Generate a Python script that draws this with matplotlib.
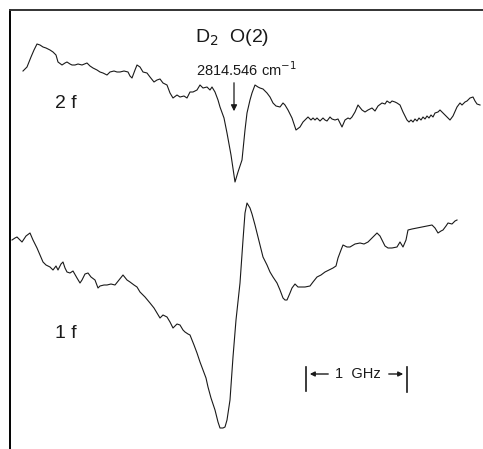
import matplotlib.pyplot as plt

# 2f trace (frequency position, signal)
f2_x = [23, 27, 31, 34, 37, 40, 43, 46, 50, 53, 56, 58, 62, 65, 67, 70, 72, 75, 78, 82,
        87, 90, 93, 97, 100, 103, 107, 110, 114, 117, 120, 124, 128, 130, 132, 135, 137,
        140, 143, 147, 150, 154, 157, 160, 163, 167, 170, 173, 177, 180, 184, 187, 190,
        193, 197, 200, 203, 207, 210, 212, 215, 218, 220, 224, 227, 231, 235, 238, 242,
        245, 247, 250, 252, 255, 258, 260, 263, 267, 270, 273, 276, 280, 283, 285, 288,
        292, 296, 300, 303, 306, 308, 311, 313, 315, 317, 320, 323, 325, 327, 330, 332,
        335, 338, 340, 342, 345, 348, 350, 352, 355, 358, 362, 365, 368, 372, 375, 378,
        382, 385, 387, 390, 392, 395, 397, 400, 403, 407, 409, 411, 413, 415, 417, 419,
        421, 423, 425, 427, 429, 431, 433, 435, 438, 440, 443, 445, 447, 450, 453, 457,
        460, 462, 465, 467, 470, 473, 475, 477, 480]
f2_y = [71, 67, 57, 50, 44, 45, 47, 48, 50, 52, 55, 62, 65, 63, 62, 64, 65, 65, 64, 65,
        63, 66, 68, 70, 72, 73, 75, 72, 71, 72, 72, 71, 72, 76, 78, 70, 65, 67, 72, 73,
        77, 82, 80, 79, 83, 85, 93, 98, 95, 97, 96, 98, 92, 92, 90, 85, 88, 87, 90, 87,
        92, 100, 107, 118, 133, 155, 182, 172, 160, 130, 113, 100, 93, 85, 87, 88, 89,
        93, 97, 103, 106, 107, 103, 105, 110, 118, 130, 127, 122, 119, 117, 120, 118,
        120, 118, 121, 118, 120, 121, 117, 119, 120, 119, 123, 127, 120, 118, 119, 117,
        112, 105, 110, 112, 110, 108, 111, 106, 103, 104, 101, 103, 101, 102, 103, 105,
        112, 120, 122, 120, 122, 119, 121, 118, 120, 117, 119, 116, 118, 115, 117, 113,
        112, 110, 113, 115, 117, 120, 116, 107, 103, 105, 102, 101, 98, 97, 101, 104, 105]

# 1f trace
f1_x = [12, 15, 17, 20, 22, 26, 30, 33, 37, 40, 43, 46, 50, 53, 56, 58, 61, 63, 65, 67,
        70, 73, 77, 80, 82, 85, 88, 91, 95, 98, 100, 104, 107, 111, 115, 119, 123, 127,
        130, 134, 137, 140, 145, 150, 154, 157, 160, 163, 167, 170, 173, 177, 180, 183,
        185, 188, 190, 194, 197, 200, 203, 206, 208, 211, 215, 218, 220, 223, 225, 227,
        230, 233, 236, 240, 243, 245, 247, 250, 252, 255, 257, 260, 263, 267, 270, 273,
        277, 280, 283, 285, 287, 290, 292, 295, 298, 300, 305, 310, 313, 317, 321, 325,
        329, 333, 336, 338, 341, 343, 347, 350, 355, 360, 364, 368, 372, 377, 380, 382,
        385, 388, 392, 397, 400, 403, 406, 408, 412, 417, 422, 427, 432, 435, 438, 441,
        443, 446, 448, 452, 455, 457]
f1_y = [240, 238, 237, 240, 242, 236, 233, 240, 248, 255, 262, 265, 267, 270, 266, 270,
        264, 262, 268, 272, 273, 271, 278, 283, 280, 274, 273, 277, 280, 288, 286, 285,
        285, 284, 285, 280, 275, 280, 282, 285, 287, 292, 297, 303, 308, 313, 318, 315,
        317, 322, 328, 324, 325, 330, 332, 334, 335, 345, 353, 362, 370, 378, 387, 398,
        410, 422, 428, 428, 427, 420, 400, 357, 320, 283, 240, 213, 203, 208, 214, 225,
        233, 245, 257, 265, 272, 277, 283, 290, 298, 300, 300, 293, 288, 284, 287, 287,
        287, 286, 282, 277, 275, 272, 270, 268, 266, 258, 250, 245, 247, 247, 244, 243,
        244, 242, 238, 233, 236, 240, 246, 248, 248, 247, 242, 247, 240, 230, 229, 228,
        227, 226, 225, 228, 233, 231, 230, 226, 223, 224, 221, 220]

peak_label = "D$_2$  O(2)"
peak_wavenumber = "2814.546 cm$^{-1}$"
trace_labels = ["2 f", "1 f"]
scale_label = "1  GHz"

fig = plt.figure(figsize=(4.83, 4.49), dpi=100)
ax = fig.add_axes([10 / 483, 0, 473 / 483, 439 / 449])
ax.set_xlim(10, 483)
ax.set_ylim(449, 10)

ink = "#1a1a1a"
ax.plot(f2_x, f2_y, color=ink, lw=0.8)
ax.plot(f1_x, f1_y, color=ink, lw=0.8)

# frame: only the left and top edges survive on the scan
for side in ["right", "bottom"]:
    ax.spines[side].set_visible(False)
ax.spines["left"].set_linewidth(1.4)
ax.spines["top"].set_linewidth(1.4)
ax.spines["top"].set_color("#333333")
ax.set_xticks([])
ax.set_yticks([])

font = "Liberation Sans"
ax.text(232, 37, peak_label, fontsize=14, family=font, ha="center", va="center", color=ink)
ax.text(246, 70, peak_wavenumber, fontsize=10.5, family=font, ha="center", va="center", color=ink)
ax.annotate("", xy=(234, 114), xytext=(234, 80),
            arrowprops=dict(arrowstyle="-|>", color=ink, lw=0.9, mutation_scale=9))

ax.text(55, 103, trace_labels[0], fontsize=14, family=font, ha="left", va="center", color=ink)
ax.text(55, 333, trace_labels[1], fontsize=14, family=font, ha="left", va="center", color=ink)

# 1 GHz scale bar
ax.plot([306, 306], [367, 391], color=ink, lw=1.2)
ax.plot([407, 407], [367, 392], color=ink, lw=1.2)
ax.annotate("", xy=(307, 374), xytext=(331, 374),
            arrowprops=dict(arrowstyle="-|>", color=ink, lw=1, mutation_scale=7))
ax.annotate("", xy=(406, 374), xytext=(386, 374),
            arrowprops=dict(arrowstyle="-|>", color=ink, lw=1, mutation_scale=7))
ax.text(358, 374, scale_label, fontsize=10.5, family=font, ha="center", va="center", color=ink)

fig.savefig("out.png", dpi=100)
